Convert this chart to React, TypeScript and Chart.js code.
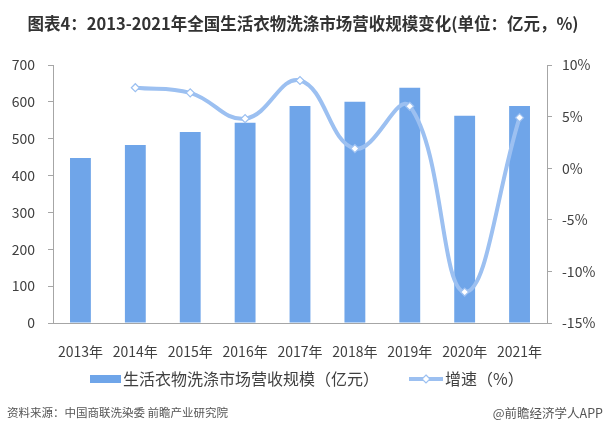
import React, { useEffect, useRef } from "react";
import { Chart, registerables } from "chart.js";

Chart.register(...registerables);

const years = ["2013年", "2014年", "2015年", "2016年", "2017年", "2018年", "2019年", "2020年", "2021年"];
const revenue = [448, 483, 518, 543, 589, 600, 638, 562, 589];
const growth = [null, 7.8, 7.3, 4.8, 8.5, 1.9, 6.0, -12.0, 4.9];
const leftMin = 0;
const leftMax = 700;
const leftStep = 100;
const rightMin = -15;
const rightMax = 10;
const rightStep = 5;

const titleText = "图表4：2013-2021年全国生活衣物洗涤市场营收规模变化(单位：亿元，%)";
const barLabel = "生活衣物洗涤市场营收规模（亿元）";
const lineLabel = "增速（%）";
const sourceText = "资料来源：中国商联洗染委 前瞻产业研究院";
const creditText = "@前瞻经济学人APP";

const FONT = "'Noto Sans CJK SC', 'Noto Sans', sans-serif";
const BAR_COLOR = "#6fa5e9";
const LINE_COLOR = "#9cc0f1";
const AXIS_COLOR = "#a6a6a6";
const TEXT_COLOR = "#404040";

const decorPlugin = {
  id: "decor",
  afterDraw(chart: any) {
    const ctx = chart.ctx as CanvasRenderingContext2D;
    ctx.save();
    // title
    ctx.fillStyle = "#333333";
    ctx.font = `bold 16.5px ${FONT}`;
    ctx.textAlign = "center";
    ctx.textBaseline = "middle";
    ctx.fillText(titleText, 303, 24);

    // legend
    ctx.font = `16px ${FONT}`;
    ctx.textAlign = "left";
    ctx.fillStyle = BAR_COLOR;
    ctx.fillRect(90, 375, 31, 8);
    ctx.fillStyle = TEXT_COLOR;
    ctx.fillText(barLabel, 123, 379);

    ctx.strokeStyle = LINE_COLOR;
    ctx.lineWidth = 4;
    ctx.beginPath();
    ctx.moveTo(409, 379);
    ctx.lineTo(443, 379);
    ctx.stroke();
    ctx.fillStyle = "#ffffff";
    ctx.lineWidth = 1.2;
    ctx.beginPath();
    ctx.moveTo(426, 375);
    ctx.lineTo(430, 379);
    ctx.lineTo(426, 383);
    ctx.lineTo(422, 379);
    ctx.closePath();
    ctx.fill();
    ctx.stroke();
    ctx.fillStyle = TEXT_COLOR;
    ctx.fillText(lineLabel, 445, 379);

    // footer
    ctx.font = `11.5px ${FONT}`;
    ctx.fillStyle = "#555555";
    ctx.textAlign = "left";
    ctx.fillText(sourceText, 7, 413);
    ctx.font = `12.5px ${FONT}`;
    ctx.textAlign = "right";
    ctx.fillText(creditText, 603, 413);
    ctx.restore();
  },
};

export default function App() {
  const canvasRef = useRef<HTMLCanvasElement | null>(null);

  useEffect(() => {
    if (!canvasRef.current) return;
    const chart = new Chart(canvasRef.current, {
      type: "bar",
      data: {
        labels: years,
        datasets: [
          {
            type: "line",
            label: lineLabel,
            data: growth,
            yAxisID: "y1",
            borderColor: LINE_COLOR,
            borderWidth: 4,
            tension: 0.42,
            pointStyle: "rectRot",
            pointRadius: 4,
            pointBackgroundColor: "#ffffff",
            pointBorderColor: LINE_COLOR,
            pointBorderWidth: 1.2,
            fill: false,
            order: 0,
          } as any,
          {
            type: "bar",
            label: barLabel,
            data: revenue,
            yAxisID: "y",
            backgroundColor: BAR_COLOR,
            categoryPercentage: 1,
            barPercentage: 0.38,
            order: 1,
          },
        ],
      },
      options: {
        responsive: false,
        animation: false,
        layout: { padding: { top: 65, bottom: 74, left: 0, right: 0 } },
        plugins: {
          legend: { display: false },
          title: { display: false },
          tooltip: { enabled: false },
        },
        scales: {
          x: {
            grid: { display: false },
            border: { display: true, color: AXIS_COLOR },
            ticks: {
              color: TEXT_COLOR,
              font: { family: FONT, size: 14 },
              padding: 12,
              maxRotation: 0,
              autoSkip: false,
            },
            afterFit(scale: any) {
              scale.height = 40;
            },
          },
          y: {
            position: "left",
            min: leftMin,
            max: leftMax,
            grid: { display: true, drawOnChartArea: false, drawTicks: true, tickLength: 5, color: AXIS_COLOR },
            border: { display: true, color: AXIS_COLOR },
            ticks: {
              stepSize: leftStep,
              color: TEXT_COLOR,
              font: { family: FONT, size: 14 },
              padding: 13,
            },
            afterFit(scale: any) {
              scale.width = 53;
            },
          },
          y1: {
            position: "right",
            min: rightMin,
            max: rightMax,
            grid: { display: true, drawOnChartArea: false, drawTicks: true, tickLength: 5, color: AXIS_COLOR },
            border: { display: true, color: AXIS_COLOR },
            ticks: {
              stepSize: rightStep,
              color: TEXT_COLOR,
              font: { family: FONT, size: 14 },
              padding: 10,
              callback: (v: any) => `${v}%`,
            },
            afterFit(scale: any) {
              scale.width = 60;
            },
          },
        },
      },
      plugins: [decorPlugin],
    });
    return () => chart.destroy();
  }, []);

  return (
    <div style={{ position: "absolute", left: 0, top: 0, width: 607, height: 437, background: "#ffffff" }}>
      <canvas ref={canvasRef} width={607} height={437} />
    </div>
  );
}
